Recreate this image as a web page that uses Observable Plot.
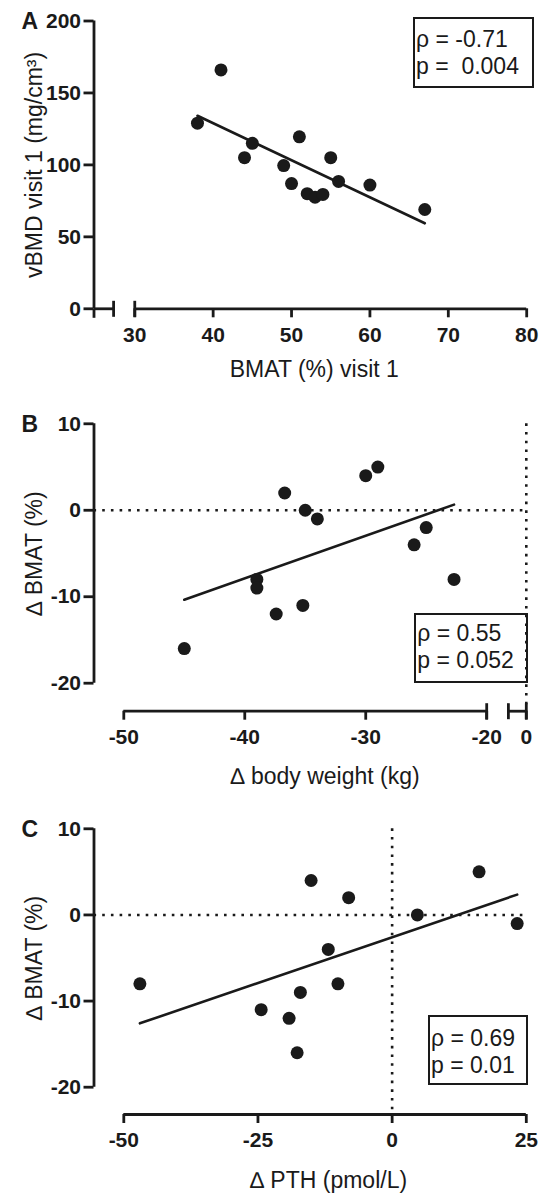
<!DOCTYPE html>
<html>
<head>
<meta charset="utf-8">
<script src="https://cdn.jsdelivr.net/npm/d3@7"></script>
<script src="https://cdn.jsdelivr.net/npm/@observablehq/plot@0.6"></script>
<style>
  body { margin: 0; background: #fff; }
  #chart { position: relative; width: 540px; height: 1195px; overflow: hidden;
           font-family: "Liberation Sans", Arial, sans-serif; color: #1a1a1a; }
  #chart svg { display: block; }
  .stat { position: absolute; box-sizing: border-box; border: 2.6px solid #1a1a1a;
          font-size: 23px; line-height: 27px; white-space: pre; padding-left: 1px; }
</style>
</head>
<body>
<div id="chart"></div>
<script>
// ---------------- data ----------------
// Panel A: BMAT (%) visit 1 vs vBMD visit 1
const bmatVisit1 = [38, 41, 44, 45, 49, 50, 51, 52, 53, 54, 55, 56, 60, 67];
const vbmdVisit1 = [129, 166, 105, 115, 99.5, 87, 119.5, 80, 77.5, 79.5, 105, 88.5, 86, 69];
// Panel B: Δ body weight (kg) vs Δ BMAT (%)
const weightChange = [-45, -39, -39, -37.4, -36.7, -35.2, -35, -34, -30, -29, -26, -25, -22.7];
const bmatChangeB  = [-16, -8, -9, -12, 2, -11, 0, -1, 4, 5, -4, -2, -8];
// Panel C: Δ PTH (pmol/L) vs Δ BMAT (%)
const pthChange   = [-47, -24.4, -19.2, -17.7, -17.1, -15.1, -11.9, -10.1, -8.1, 4.7, 16.2, 23.3];
const bmatChangeC = [-8, -11, -12, -16, -9, 4, -4, -8, 2, 0, 5, -1];

// tick labels
const aXTicks = [30, 40, 50, 60, 70, 80];
const aYTicks = [0, 50, 100, 150, 200];
const bXTicks = [-50, -40, -30, -20, 0];
const bYTicks = [-20, -10, 0, 10];
const cXTicks = [-50, -25, 0, 25];
const cYTicks = [-20, -10, 0, 10];

// statistics text
const statsA = ["\u03c1 = -0.71", "p =  0.004"];
const statsB = ["\u03c1 = 0.55", "p = 0.052"];
const statsC = ["\u03c1 = 0.69", "p = 0.01"];

// titles
const titlesA = {letter: "A", x: "BMAT (%) visit 1", y: "vBMD visit 1 (mg/cm\u00b3)"};
const titlesB = {letter: "B", x: "\u2206 body weight (kg)", y: "\u2206 BMAT (%)"};
const titlesC = {letter: "C", x: "\u2206 PTH (pmol/L)", y: "\u2206 BMAT (%)"};

// ---------------- layout ----------------
const ink = "#1a1a1a";
const fontFamily = "Liberation Sans, Arial, sans-serif";
const capSymbol = {draw(ctx) { ctx.moveTo(0, -8); ctx.lineTo(0, 8); }};
const downSymbol = {draw(ctx) { ctx.moveTo(0, 0); ctx.lineTo(0, 9); }};

const chart = document.getElementById("chart");

function panel(cfg, xs, ys, xTicks, yTicks, titles) {
  const data = xs.map((x, i) => ({x, y: ys[i]}));
  const [yMin, yMax] = cfg.yDomain;
  const marginLeft = cfg.yAxisPx;
  const marginRight = 540 - cfg.xRange[cfg.xRange.length - 1];
  const marginTop = cfg.yRange[1];
  const marginBottom = cfg.height - cfg.xAxisPx;
  const axisDy = cfg.xAxisPx - cfg.yRange[0];
  const yAxisDx = cfg.yAxisPx - cfg.xRange[0];
  const marks = [];
  const dotted = {stroke: ink, strokeWidth: 2.6, strokeDasharray: "2.6,6.1"};
  if (cfg.hZero) marks.push(Plot.ruleY([0], dotted));
  if (cfg.vZero) marks.push(Plot.ruleX([0], dotted));
  // axis lines
  marks.push(Plot.ruleX([cfg.xDomain[0]], {y1: yMin, y2: yMax, dx: yAxisDx, stroke: ink, strokeWidth: 2.8}));
  marks.push(Plot.ruleY(cfg.xSegments, {x1: d => d[0], x2: d => d[1], y: yMin, dy: axisDy, stroke: ink, strokeWidth: 2.8}));
  if (cfg.xCaps.length) marks.push(Plot.dot(cfg.xCaps, {x: d => d, y: yMin, dy: axisDy, symbol: capSymbol, stroke: ink, strokeWidth: 2.8, fill: "none"}));
  if (cfg.xStarts.length) marks.push(Plot.dot(cfg.xStarts, {x: d => d, y: yMin, dy: axisDy, symbol: downSymbol, stroke: ink, strokeWidth: 2.8, fill: "none"}));
  marks.push(Plot.axisY(yTicks, {anchor: "left", tickSize: 10, tickPadding: 3, tickFormat: d => String(d),
    fontSize: 21, fontWeight: "bold", strokeWidth: 2.8, label: null}));
  marks.push(Plot.axisX(xTicks, {anchor: "bottom", tickSize: 9, tickPadding: 9, tickFormat: d => String(d),
    fontSize: 21, fontWeight: "bold", strokeWidth: 2.8, label: null}));
  // regression + points
  marks.push(Plot.linearRegressionY(data, {x: "x", y: "y", ci: 0, stroke: ink, strokeWidth: 2.6}));
  marks.push(Plot.dot(data, {x: "x", y: "y", r: 6.5, fill: ink, stroke: "none"}));
  // titles
  marks.push(Plot.text([titles.x], {text: d => d, frameAnchor: "top-left",
    dx: cfg.xTitle[0] - marginLeft, dy: cfg.xTitle[1] - marginTop - 0.32 * 23,
    textAnchor: "middle", lineAnchor: "middle", fontSize: 23}));
  marks.push(Plot.text([titles.y], {text: d => d, frameAnchor: "top-left", rotate: -90,
    dx: cfg.yTitle[0] - 0.32 * 23 - marginLeft, dy: cfg.yTitle[1] - marginTop,
    textAnchor: "middle", lineAnchor: "middle", fontSize: 23}));
  marks.push(Plot.text([titles.letter], {text: d => d, frameAnchor: "top-left",
    dx: cfg.letter[0] - marginLeft, dy: cfg.letter[1] - marginTop - 0.32 * 23,
    textAnchor: "start", lineAnchor: "middle", fontSize: 23, fontWeight: "bold"}));

  const svg = Plot.plot({
    width: 540, height: cfg.height,
    marginLeft, marginRight, marginTop, marginBottom,
    x: {type: "linear", domain: cfg.xDomain, range: cfg.xRange, axis: null},
    y: {type: "linear", domain: cfg.yDomain, range: cfg.yRange, axis: null},
    style: {fontFamily, color: ink, background: "transparent", overflow: "visible"},
    marks
  });
  chart.appendChild(svg);
}

function statBox(box, lines) {
  const div = document.createElement("div");
  div.className = "stat";
  Object.assign(div.style, {left: box.left + "px", top: box.top + "px", width: box.width + "px",
    height: box.height + "px", paddingTop: box.padTop + "px"});
  div.textContent = lines.join("\n");
  chart.appendChild(div);
}

panel({height: 395, xDomain: [24.8, 80], xRange: [93.5, 526.2], yDomain: [0, 200], yRange: [308.3, 20.5],
       yAxisPx: 93.5, xAxisPx: 308.3, xSegments: [[24.8, 27.3], [30, 80]], xCaps: [27.3, 30], xStarts: [24.8],
       xTitle: [313.8, 376], yTitle: [41, 164.4], letter: [21, 28]},
      bmatVisit1, vbmdVisit1, aXTicks, aYTicks, titlesA);

panel({height: 405, xDomain: [-50, -20, -2, 0], xRange: [123.3, 486.2, 507.9, 525.8], yDomain: [-20, 10], yRange: [287.7, 28.3],
       yAxisPx: 93.5, xAxisPx: 315.7, xSegments: [[-50, -20], [-2, 0]], xCaps: [-20, -2, 0], xStarts: [],
       hZero: true, vZero: true, xTitle: [324.6, 388], yTitle: [41, 158], letter: [21, 36.7]},
      weightChange, bmatChangeB, bXTicks, bYTicks, titlesB);

panel({height: 395, xDomain: [-50, 25], xRange: [123.3, 525.8], yDomain: [-20, 10], yRange: [286.7, 28.3],
       yAxisPx: 93.5, xAxisPx: 314, xSegments: [[-50, 25]], xCaps: [], xStarts: [],
       hZero: true, vZero: true, xTitle: [328, 387], yTitle: [41, 157.5], letter: [21, 36]},
      pthChange, bmatChangeC, cXTicks, cYTicks, titlesC);

statBox({left: 413, top: 17.3, width: 121.4, height: 71, padTop: 7}, statsA);
statBox({left: 414.3, top: 613.3, width: 113.7, height: 69.4, padTop: 4.5}, statsB);
statBox({left: 428, top: 1015, width: 99.5, height: 70, padTop: 7.5}, statsC);
</script>
</body>
</html>
